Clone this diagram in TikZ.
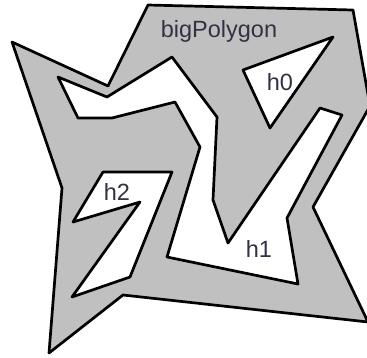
\documentclass[tikz,border=0pt]{standalone}
\usepackage{fontspec}
\setmainfont{Liberation Sans}
\usetikzlibrary{positioning}

\definecolor{polygray}{RGB}{192,192,192}
\definecolor{labelink}{RGB}{50,50,68}

\begin{document}
\begin{tikzpicture}[x=1pt, y=-1pt,
    polyshape/.style={fill=polygray, draw=black, line width=2.7pt, line join=round, even odd rule},
    polylabel/.style={text=labelink, font=\fontsize{23.5}{26}\selectfont, anchor=base, inner sep=0pt}]
    \useasboundingbox[fill=white] (0,0) rectangle (367,357);
    \begin{scope}
      \clip (0,0) rectangle (367,357);
      % outer polygon with the three holes cut out
      \filldraw[polyshape]
        (12,42) -- (108,86) -- (148,5) -- (353,10) -- (370,106) -- (313,207)
          -- (368,322) -- (123,295) -- (49,353) -- (62,188) -- cycle
        % h0
        (243,70) -- (333,37) -- (270,128) -- cycle
        % h1
        (58,77) -- (107,97) -- (172,57) -- (217,117) -- (213,200) -- (228,243)
          -- (320,108) -- (342,115) -- (287,218) -- (298,284) -- (167,257)
          -- (200,147) -- (175,102) -- (112,118) -- (78,118) -- cycle
        % h2
        (103,172) -- (172,172) -- (130,277) -- (72,297) -- (140,202)
          -- (73,222) -- cycle;
    \end{scope}

    \node[polylabel] (bigLabel) at (219,37) {bigPolygon};
    \node[polylabel] (hLabel0) at (280,90) {h0};
    \node[polylabel] (hLabel1) at (259,257) {h1};
    \node[polylabel] (hLabel2) at (117,200) {h2};
\end{tikzpicture}
\end{document}
